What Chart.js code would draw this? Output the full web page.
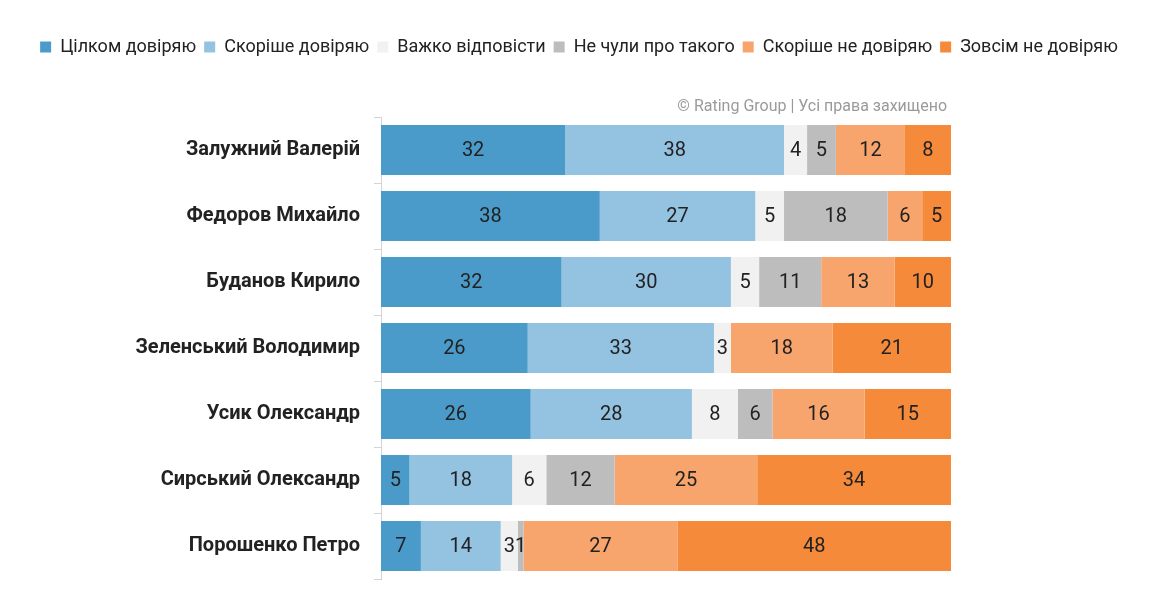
<!DOCTYPE html>
<html>
<head>
<meta charset="utf-8">
<script src="https://cdn.jsdelivr.net/npm/chart.js@4"></script>
<style>
  body { margin: 0; background: #fff; }
  #wrap { width: 1158px; height: 609px; }
</style>
</head>
<body>
<div id="wrap"><canvas id="trustChart"></canvas></div>
<script>
const names = ['Залужний Валерій', 'Федоров Михайло', 'Буданов Кирило', 'Зеленський Володимир', 'Усик Олександр', 'Сирський Олександр', 'Порошенко Петро'];
const seriesNames = ['Цілком довіряю', 'Скоріше довіряю', 'Важко відповісти', 'Не чули про такого', 'Скоріше не довіряю', 'Зовсім не довіряю'];

const fullyTrust    = [32, 38, 32, 26, 26, 5, 7];
const ratherTrust   = [38, 27, 30, 33, 28, 18, 14];
const hardToSay     = [4, 5, 5, 3, 8, 6, 3];
const notHeard      = [5, 18, 11, 0, 6, 12, 1];
const ratherDistrust = [12, 6, 13, 18, 16, 25, 27];
const fullyDistrust = [8, 5, 10, 21, 15, 34, 48];

const colors = ['#4b9bca', '#94c2e1', '#f1f1f1', '#bdbdbd', '#f7a56c', '#f58a3b'];
const font = "Roboto, 'Noto Sans', sans-serif";

const raw = [fullyTrust, ratherTrust, hardToSay, notHeard, ratherDistrust, fullyDistrust];
// кожен рядок нормується до 100%
const totals = names.map((_, i) => raw.reduce((s, arr) => s + arr[i], 0));

const datasets = raw.map((arr, k) => ({
  label: seriesNames[k],
  data: arr.map((v, i) => v / totals[i] * 100),
  rawValues: arr,
  backgroundColor: colors[k],
  borderWidth: 0,
  barPercentage: 0.76,
  categoryPercentage: 1
}));

// підписи значень у сегментах
const valueLabels = {
  id: 'valueLabels',
  afterDatasetsDraw(chart) {
    const ctx = chart.ctx;
    ctx.save();
    ctx.font = '20px ' + font;
    ctx.fillStyle = '#222';
    ctx.textAlign = 'center';
    ctx.textBaseline = 'middle';
    chart.data.datasets.forEach((ds, k) => {
      chart.getDatasetMeta(k).data.forEach((bar, i) => {
        const v = ds.rawValues[i];
        if (!v) return;
        ctx.fillText(v, (bar.x + bar.base) / 2, bar.y + 1);
      });
    });
    ctx.restore();
  }
};

const watermark = {
  id: 'watermark',
  afterDraw(chart) {
    const ctx = chart.ctx;
    ctx.save();
    ctx.font = '16px ' + font;
    ctx.fillStyle = '#9a9a9a';
    ctx.textAlign = 'right';
    ctx.textBaseline = 'alphabetic';
    ctx.fillText('© Rating Group | Усі права захищено', chart.chartArea.right - 4, chart.chartArea.top - 6);
    ctx.restore();
  }
};

const legendSpace = {
  id: 'legendSpace',
  beforeInit(chart) {
    const fit = chart.legend.fit;
    chart.legend.fit = function () {
      fit.call(this);
      this.height = 87;
    };
  }
};

new Chart(document.getElementById('trustChart'), {
  type: 'bar',
  data: { labels: names, datasets: datasets },
  plugins: [valueLabels, watermark, legendSpace],
  options: {
    indexAxis: 'y',
    responsive: true,
    maintainAspectRatio: false,
    animation: false,
    layout: { padding: { top: 30, bottom: 30, left: 0, right: 0 } },
    plugins: {
      legend: {
        position: 'top',
        labels: {
          font: { family: font, size: 18 },
          color: '#222',
          boxWidth: 11,
          boxHeight: 11,
          padding: 8
        }
      },
      tooltip: { enabled: false }
    },
    scales: {
      x: {
        stacked: true,
        min: 0,
        max: 100,
        display: false
      },
      y: {
        stacked: true,
        afterFit: s => { s.width = 381; },
        grid: { offset: true, drawOnChartArea: false, tickLength: 7, color: '#d4d4d4' },
        border: { color: '#d4d4d4' },
        ticks: {
          padding: 14,
          color: '#222',
          font: { family: font, size: 20, weight: 'bold' }
        }
      },
      yRight: {
        position: 'right',
        afterFit: s => { s.width = 207; },
        grid: { display: false },
        border: { display: false },
        ticks: { display: false }
      }
    }
  }
});
</script>
</body>
</html>
